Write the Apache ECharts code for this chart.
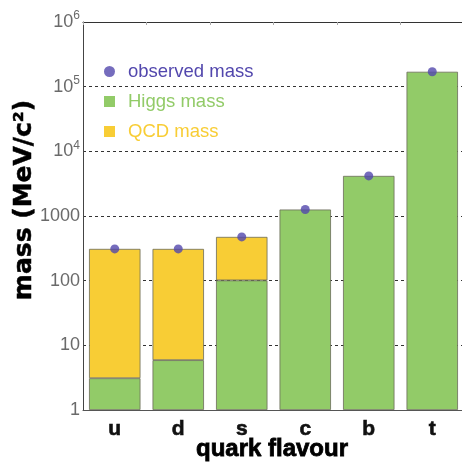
<!DOCTYPE html>
<html>
<head>
<meta charset="utf-8">
<script src="https://cdn.jsdelivr.net/npm/echarts@6/dist/echarts.min.js"></script>
<style>
html,body{margin:0;padding:0;background:#fff;}
#chart{width:462px;height:466px;}
</style>
</head>
<body>
<div id="chart"></div>
<script>
// Quark masses (MeV/c^2): Higgs-generated part plus QCD binding part
const quarks = ['u', 'd', 's', 'c', 'b', 't'];
const higgsMass = [3.1, 5.9, 101, 1260, 4170, 170000];
const qcdMass = [307, 304, 374, '-', '-', '-'];
const observedMass = [310, 310, 475, 1260, 4170, 170000];
const yTicks = [1, 10, 100, 1000, 10000, 100000, 1000000];

const colHiggs = '#92cb68';
const colQcd = '#f8cd35';
const colObs = '#5247ad';

const chart = echarts.init(document.getElementById('chart'));

function tickLabel(v) {
  if (v >= 10000) {
    const e = Math.round(Math.log10(v));
    return '{b|10}{s|' + e + '}';
  }
  return '{b|' + v + '}';
}

chart.setOption({
  animation: false,
  backgroundColor: '#fff',
  grid: { left: 83, right: -2, top: 22, bottom: 56, outerBoundsMode: 'none', containLabel: false },
  legend: {
    orient: 'vertical',
    left: 99,
    top: 57,
    itemGap: 11,
    itemWidth: 11,
    itemHeight: 11,
    textStyle: { fontFamily: 'Liberation Sans', fontSize: 18.5, padding: [0, 0, 0, 8] },
    data: [
      { name: 'observed mass', icon: 'circle', itemStyle: { borderWidth: 0 }, textStyle: { color: colObs } },
      { name: 'Higgs mass', icon: 'rect', itemStyle: { borderWidth: 0 }, textStyle: { color: colHiggs } },
      { name: 'QCD mass', icon: 'rect', itemStyle: { borderWidth: 0 }, textStyle: { color: colQcd } }
    ]
  },
  xAxis: [{
    type: 'category',
    data: quarks,
    axisLine: { show: true, lineStyle: { color: '#555', width: 1 } },
    axisTick: { show: false },
    axisLabel: {
      color: '#111', fontSize: 21, fontWeight: 'bold', fontFamily: 'Liberation Sans', margin: 9,
      textBorderColor: '#111', textBorderWidth: 0.6
    }
  }, {
    type: 'category',
    data: quarks,
    position: 'top',
    axisLine: { show: true, lineStyle: { color: '#333', width: 1.2 } },
    axisTick: { show: true, inside: true, length: 3, lineStyle: { color: '#aaa' } },
    axisLabel: { show: false }
  }],
  yAxis: {
    type: 'log',
    logBase: 10,
    min: yTicks[0],
    max: yTicks[yTicks.length - 1],
    axisLine: { show: true, lineStyle: { color: '#444', width: 1 } },
    axisTick: { show: false },
    splitLine: { show: true, lineStyle: { color: '#333', type: [3, 3], width: 1 } },
    axisLabel: {
      margin: 3,
      formatter: tickLabel,
      rich: {
        b: { color: '#6a6a6a', fontSize: 18, fontFamily: 'Liberation Sans' },
        s: { color: '#6a6a6a', fontSize: 12, fontFamily: 'Liberation Sans', padding: [0, 0, 12, 0] }
      }
    }
  },
  graphic: [{
    // y-axis title
    type: 'text',
    x: 24.5,
    y: 200,
    rotation: Math.PI / 2,
    style: {
      text: 'mass (MeV/c²)',
      fill: '#000',
      stroke: '#000',
      lineWidth: 0.5,
      font: 'bold 25px "DejaVu Sans"',
      align: 'center',
      verticalAlign: 'middle',
      textAlign: 'center',
      textVerticalAlign: 'middle'
    }
  }, {
    // x-axis title
    type: 'text',
    x: 272,
    y: 449,
    style: {
      text: 'quark flavour',
      fill: '#000',
      stroke: '#000',
      lineWidth: 0.8,
      font: 'bold 24px "Liberation Sans"',
      align: 'center',
      verticalAlign: 'middle',
      textAlign: 'center',
      textVerticalAlign: 'middle'
    }
  }],
  series: [{
    name: 'Higgs mass',
    type: 'bar',
    stack: 'm',
    data: higgsMass,
    barWidth: '81%',
    itemStyle: { color: colHiggs, borderColor: '#6b6b5a', borderWidth: 0.8 }
  }, {
    name: 'QCD mass',
    type: 'bar',
    stack: 'm',
    data: qcdMass,
    barWidth: '81%',
    itemStyle: { color: colQcd, borderColor: '#6b6b5a', borderWidth: 0.8 }
  }, {
    name: 'observed mass',
    type: 'scatter',
    data: observedMass,
    symbol: 'circle',
    symbolSize: 9,
    z: 5,
    itemStyle: { color: colObs }
  }]
});
</script>
</body>
</html>
